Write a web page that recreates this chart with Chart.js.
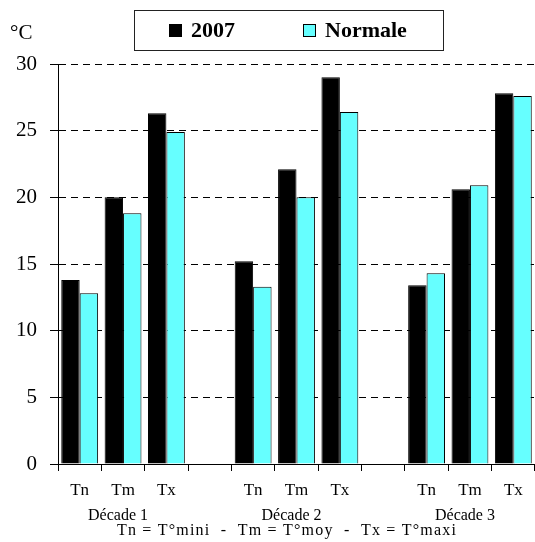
<!DOCTYPE html>
<html>
<head>
<meta charset="utf-8">
<script src="https://cdn.jsdelivr.net/npm/chart.js@4/dist/chart.umd.min.js"></script>
<style>
  body { margin: 0; background: #fff; overflow: hidden; }
</style>
</head>
<body>
<canvas id="myChart" width="535" height="542"></canvas>
<script>
// data
var measures = ['Tn', 'Tm', 'Tx'];
var decades = ['Décade 1', 'Décade 2', 'Décade 3'];
var series_names = ['2007', 'Normale'];
var values_2007 = [13.8, 20.0, 26.3, 15.2, 22.1, 29.0, 13.4, 20.6, 27.8];
var values_normale = [12.8, 18.8, 24.9, 13.3, 20.0, 26.4, 14.3, 20.9, 27.6];
var y_ticks = [0, 5, 10, 15, 20, 25, 30];
var footnote = 'Tn = T°mini  -  Tm = T°moy  -  Tx = T°maxi';

// one empty slot between decades
var labels = [];
var data_2007 = [];
var data_normale = [];
var decade_slots = [];
for (var d = 0; d < decades.length; d++) {
    for (var m = 0; m < measures.length; m++) {
        if (m === 1) decade_slots.push(labels.length);
        labels.push(measures[m]);
        data_2007.push(values_2007[d * 3 + m]);
        data_normale.push(values_normale[d * 3 + m]);
    }
    if (d < decades.length - 1) {
        labels.push('');
        data_2007.push(null);
        data_normale.push(null);
    }
}

Chart.defaults.font.family = "'Liberation Serif', 'Times New Roman', serif";
Chart.defaults.color = '#000';

var extras = {
    id: 'extras',
    afterDraw: function (chart) {
        var c = chart.ctx;
        var xs_scale = chart.scales.x;
        c.save();
        // unit
        c.fillStyle = '#000';
        c.font = "21px 'Liberation Serif'";
        c.textBaseline = 'alphabetic';
        c.textAlign = 'left';
        c.fillText('°C', 10, 39);
        // decade names under the Tm columns
        c.font = "16px 'Liberation Serif'";
        c.textAlign = 'center';
        for (var k = 0; k < decades.length; k++) {
            c.fillText(decades[k], xs_scale.getPixelForValue(decade_slots[k]) - 5, 520);
        }
        // footnote
        c.letterSpacing = '1.2px';
        c.fillText(footnote, 287, 535);
        c.letterSpacing = '0px';
        c.textAlign = 'left';
        // legend box
        c.strokeStyle = '#222';
        c.lineWidth = 1;
        c.strokeRect(134.5, 10.5, 309, 40);
        var ds = chart.data.datasets;
        var xs = [169, 303];
        c.font = "bold 22px 'Liberation Serif'";
        c.textBaseline = 'middle';
        for (var i = 0; i < ds.length; i++) {
            c.fillStyle = ds[i].backgroundColor;
            c.fillRect(xs[i], 24, 13, 13);
            c.strokeStyle = '#000';
            c.strokeRect(xs[i] + 0.5, 24.5, 12, 12);
            c.fillStyle = '#000';
            c.fillText(ds[i].label, xs[i] + 22, 31);
        }
        c.restore();
    }
};

var ctx = document.getElementById('myChart').getContext('2d');
var myChart = new Chart(ctx, {
    type: 'bar',
    data: {
        labels: labels,
        datasets: [{
            label: series_names[0],
            data: data_2007,
            backgroundColor: '#000000',
            borderColor: '#000000',
            borderWidth: 1,
        }, {
            label: series_names[1],
            data: data_normale,
            backgroundColor: '#66ffff',
            borderColor: '#000000',
            borderWidth: 1,
        }],
    },
    options: {
        responsive: false,
        animation: false,
        categoryPercentage: 0.85,
        barPercentage: 1.0,
        layout: { padding: { top: 64, left: 0, right: 0, bottom: 0 } },
        plugins: {
            legend: { display: false },
            tooltip: { enabled: false },
        },
        scales: {
            x: {
                afterFit: function (scale) { scale.height = 78; },
                grid: {
                    offset: true,
                    drawOnChartArea: false,
                    drawTicks: true,
                    tickLength: 7,
                    color: '#000',
                },
                border: { color: '#000', width: 1 },
                ticks: {
                    font: { size: 17, lineHeight: 1.2 },
                    padding: 9,
                    maxRotation: 0,
                    autoSkip: false,
                },
            },
            y: {
                min: 0,
                max: 30,
                afterFit: function (scale) { scale.width = 58; },
                afterBuildTicks: function (scale) {
                    scale.ticks = y_ticks.map(function (v) { return { value: v }; });
                },
                grid: {
                    color: '#000',
                    lineWidth: 1,
                    tickLength: 8,
                    tickColor: '#000',
                },
                border: { color: '#000', width: 1, dash: [7, 5] },
                ticks: {
                    font: { size: 21 },
                    padding: 13,
                },
            },
        },
    },
    plugins: [extras],
});
</script>
</body>
</html>
